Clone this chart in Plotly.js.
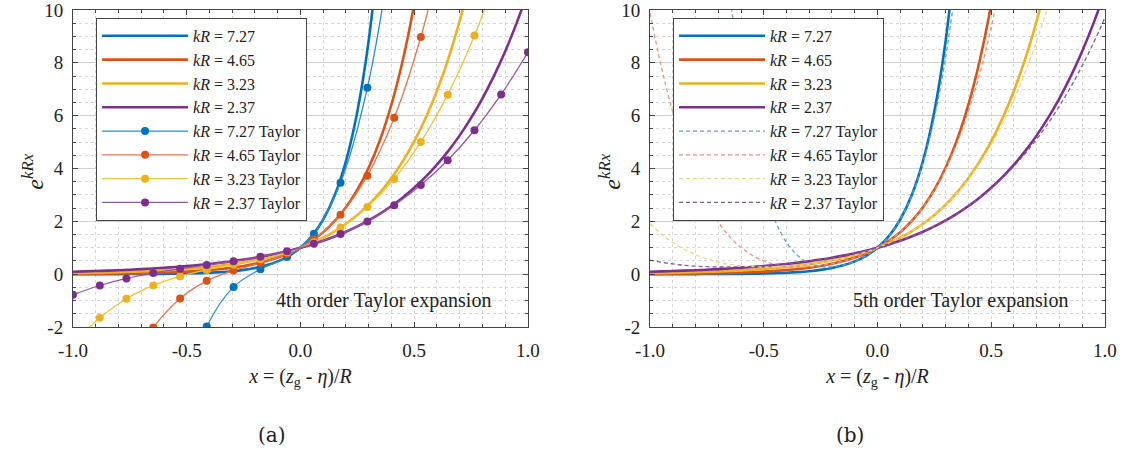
<!DOCTYPE html>
<html><head><meta charset="utf-8">
<script src="https://cdn.plot.ly/plotly-3.0.1.min.js"></script>
<style>html,body{margin:0;padding:0;background:#fff;} #chart{width:1126px;height:454px;}</style>
</head><body><div id="chart"></div>
<script>
// ---- data ----
const kLabels = ['7.27', '4.65', '3.23', '2.37'];

const xFine = [-1, -0.95, -0.9, -0.85, -0.8, -0.75, -0.7, -0.65, -0.6, -0.55, -0.5, -0.45, -0.4, -0.35, -0.3, -0.25, -0.2, -0.15, -0.1, -0.05,
  0, 0.05, 0.1, 0.15, 0.2, 0.25, 0.3, 0.35, 0.4, 0.45, 0.5, 0.55, 0.6, 0.65, 0.7, 0.75, 0.8, 0.85, 0.9, 0.95, 1];

// exact curves e^{kRx}
const expK727 = [0.0007, 0.001, 0.0014, 0.0021, 0.003, 0.0043, 0.0062, 0.0089, 0.0128, 0.0183, 0.0264, 0.038, 0.0546, 0.0785, 0.1129, 0.1624, 0.2336, 0.3361, 0.4834, 0.6953,
  1, 1.4383, 2.0689, 2.9756, 4.28, 6.156, 8.855, 12.736, null, null, null, null, null, null, null, null, null, null, null, null, null];
const expK465 = [0.0096, 0.0121, 0.0152, 0.0192, 0.0242, 0.0306, 0.0386, 0.0487, 0.0614, 0.0775, 0.0978, 0.1234, 0.1557, 0.1964, 0.2478, 0.3127, 0.3946, 0.4978, 0.6281, 0.7926,
  1, 1.2617, 1.592, 2.0087, 2.5345, 3.198, 4.035, 5.0911, 6.4237, 8.1053, 10.227, 12.904, null, null, null, null, null, null, null, null, null];
const expK323 = [0.0396, 0.0465, 0.0547, 0.0642, 0.0755, 0.0887, 0.1043, 0.1225, 0.144, 0.1692, 0.1989, 0.2337, 0.2747, 0.3229, 0.3795, 0.446, 0.5241, 0.616, 0.724, 0.8509,
  1, 1.1753, 1.3813, 1.6234, 1.9079, 2.2423, 2.6353, 3.0972, 3.6401, 4.2781, 5.0279, 5.9092, 6.9449, 8.1621, 9.5927, 11.274, null, null, null, null, null];
const expK237 = [0.0935, 0.1052, 0.1185, 0.1334, 0.1502, 0.1691, 0.1903, 0.2143, 0.2412, 0.2716, 0.3058, 0.3442, 0.3875, 0.4363, 0.4912, 0.5529, 0.6225, 0.7008, 0.789, 0.8882,
  1, 1.1258, 1.2674, 1.4269, 1.6064, 1.8085, 2.036, 2.2922, 2.5805, 2.9052, 3.2707, 3.6822, 4.1454, 4.667, 5.2541, 5.9151, 6.6591, 7.4968, 8.4401, 9.5021, 10.6974];

// panel (a): "4th order" Taylor, values at the marker positions
const xTaylor = [-1, -0.882, -0.765, -0.647, -0.529, -0.412, -0.294, -0.176, -0.059, 0.059, 0.176, 0.294, 0.412, 0.529, 0.647, 0.765, 0.882, 1];
const t4K727 = [null, null, null, null, -4.944, -1.984, -0.482, 0.188, 0.651, 1.532, 3.458, 7.053, 12.945, null, null, null, null, null];
const t4K465 = [null, null, -3.727, -2.022, -0.918, -0.252, 0.141, 0.424, 0.760, 1.314, 2.249, 3.729, 5.918, 8.979, 13.075, null, null, null];
const t4K323 = [-2.630, -1.647, -0.931, -0.428, -0.081, 0.162, 0.358, 0.562, 0.827, 1.209, 1.763, 2.544, 3.607, 5.005, 6.796, 9.032, 11.769, null];
const t4K237 = [-0.780, -0.429, -0.162, 0.041, 0.203, 0.345, 0.489, 0.657, 0.870, 1.150, 1.518, 1.996, 2.607, 3.371, 4.310, 5.447, 6.802, 8.397];

// panel (b): "5th order" Taylor on xFine
const t5K727 = [null, null, null, null, null, null, null, 10.63, 7.403, 4.992, 3.241, 2.017, 1.201, 0.694, 0.411, 0.288, 0.277, 0.347, 0.485, 0.695,
  1, 1.438, 2.067, 2.960, 4.210, 5.925, 8.231, 11.274, null, null, null, null, null, null, null, null, null, null, null, null, null];
const t5K465 = [9.884, 7.839, 6.137, 4.736, 3.599, 2.688, 1.972, 1.421, 1.007, 0.708, 0.501, 0.369, 0.296, 0.271, 0.283, 0.328, 0.400, 0.499, 0.628, 0.793,
  1, 1.262, 1.592, 2.007, 2.528, 3.176, 3.978, 4.963, 6.161, 7.608, 9.340, 11.399, null, null, null, null, null, null, null, null, null];
const t5K323 = [1.905, 1.518, 1.200, 0.942, 0.737, 0.577, 0.458, 0.372, 0.315, 0.282, 0.271, 0.277, 0.299, 0.336, 0.386, 0.448, 0.524, 0.616, 0.724, 0.851,
  1, 1.175, 1.381, 1.623, 1.907, 2.239, 2.627, 3.078, 3.602, 4.208, 4.905, 5.704, 6.617, 7.655, 8.832, 10.161, 11.656, null, null, null, null];
const t5K237 = [0.534, 0.452, 0.387, 0.338, 0.304, 0.282, 0.272, 0.271, 0.280, 0.297, 0.322, 0.354, 0.393, 0.439, 0.494, 0.554, 0.623, 0.701, 0.789, 0.888,
  1, 1.126, 1.267, 1.427, 1.606, 1.808, 2.034, 2.288, 2.573, 2.891, 3.247, 3.642, 4.083, 4.571, 5.112, 5.709, 6.368, 7.092, 7.888, 8.759, 9.712];

const xTickVals = [-1, -0.5, 0, 0.5, 1];
const xTickText = ['-1.0', '-0.5', '0.0', '0.5', '1.0'];
const yTickVals = [-2, 0, 2, 4, 6, 8, 10];
const yTickText = ['-2', '0', '2', '4', '6', '8', '10'];

// ---- styling ----
const colors = ['#0072BD', '#D95319', '#EDB120', '#7E2F8E'];
const thinColors = ['#2f8ad4', '#e2764f', '#f0c13c', '#9457a6'];
const dashColors = ['#5b9fd6', '#e8937b', '#f4d27c', '#85569a'];
const serif = 'Liberation Serif';

const expSeries = [expK727, expK465, expK323, expK237];
const t4Series = [t4K727, t4K465, t4K323, t4K237];
const t5Series = [t5K727, t5K465, t5K323, t5K237];

const traces = [];
// panel (a)
expSeries.forEach((ys, i) => traces.push({
  x: xFine, y: ys, xaxis: 'x', yaxis: 'y', mode: 'lines', legend: 'legend',
  name: '<i>kR</i> = ' + kLabels[i],
  line: {color: colors[i], width: 2.6, shape: 'spline'}
}));
t4Series.forEach((ys, i) => traces.push({
  x: xTaylor, y: ys, xaxis: 'x', yaxis: 'y', mode: 'lines+markers', legend: 'legend',
  name: '<i>kR</i> = ' + kLabels[i] + ' Taylor',
  line: {color: thinColors[i], width: 1.3, shape: 'spline'},
  marker: {color: colors[i], size: 8}
}));
// panel (b)
expSeries.forEach((ys, i) => traces.push({
  x: xFine, y: ys, xaxis: 'x2', yaxis: 'y2', mode: 'lines', legend: 'legend2',
  name: '<i>kR</i> = ' + kLabels[i],
  line: {color: colors[i], width: 2.6, shape: 'spline'}
}));
t5Series.forEach((ys, i) => traces.push({
  x: xFine, y: ys, xaxis: 'x2', yaxis: 'y2', mode: 'lines', legend: 'legend2',
  name: '<i>kR</i> = ' + kLabels[i] + ' Taylor',
  line: {color: dashColors[i], width: 1.3, dash: '4px,3px', shape: 'spline'}
}));

function xAxis(domain, anchor) {
  return {
    domain: domain, anchor: anchor, range: [-1, 1], autorange: false,
    tickmode: 'array', tickvals: xTickVals, ticktext: xTickText,
    ticks: 'inside', ticklen: 5, tickwidth: 1, tickcolor: '#444',
    showline: true, linecolor: '#444', linewidth: 1, mirror: 'ticks',
    showgrid: true, gridcolor: '#d6d6d6', gridwidth: 1, griddash: 'dot', zeroline: false,
    minor: {dtick: 0.1, tick0: 0, showgrid: true, gridcolor: '#d6d6d6', griddash: 'dot', ticks: 'inside', ticklen: 3, tickcolor: '#444'},
    tickfont: {family: serif, size: 19, color: '#222'},
    ticklabelstandoff: 6, ticklabeloverflow: 'allow',
    title: {text: '<i>x</i> = (<i>z</i><sub>g</sub> - <i>η</i>)/<i>R</i>', font: {family: serif, size: 20, color: '#222'}, standoff: 9}
  };
}
function yAxis(anchor) {
  return {
    domain: [0, 1], anchor: anchor, range: [-2, 10], autorange: false,
    tickmode: 'array', tickvals: yTickVals, ticktext: yTickText,
    ticks: 'inside', ticklen: 5, tickwidth: 1, tickcolor: '#444',
    showline: true, linecolor: '#444', linewidth: 1, mirror: 'ticks',
    showgrid: true, gridcolor: '#d0d0d0', gridwidth: 1, zeroline: false,
    minor: {dtick: 0.5, tick0: 0, showgrid: true, gridcolor: '#d6d6d6', griddash: 'dot', ticks: 'inside', ticklen: 3, tickcolor: '#444'},
    tickfont: {family: serif, size: 19, color: '#222'},
    ticklabelstandoff: 5, ticklabeloverflow: 'allow'
  };
}
const legendStyle = (x) => ({
  x: x, y: 0.975, xanchor: 'left', yanchor: 'top',
  bgcolor: '#ffffff', bordercolor: '#444', borderwidth: 1,
  font: {family: serif, size: 16, color: '#222'}, itemwidth: 86, tracegroupgap: 0
});

const yTitle = '<i>e</i><sup><i>kRx</i></sup>';
const layout = {
  width: 1126, height: 454,
  margin: {l: 0, r: 0, t: 10, b: 127, pad: 0},
  paper_bgcolor: '#fff', plot_bgcolor: '#fff',
  showlegend: true,
  xaxis: xAxis([0.0648, 0.4689], 'y'),
  yaxis: yAxis('x'),
  xaxis2: xAxis([0.5773, 0.9813], 'y2'),
  yaxis2: yAxis('x2'),
  legend: legendStyle(0.0853),
  legend2: legendStyle(0.5977),
  annotations: [
    {xref: 'paper', yref: 'paper', x: 33 / 1126, y: 0.49, xanchor: 'center', yanchor: 'middle', showarrow: false,
     textangle: -90, text: yTitle, font: {family: serif, size: 24, color: '#222'}},
    {xref: 'paper', yref: 'paper', x: 610 / 1126, y: 0.49, xanchor: 'center', yanchor: 'middle', showarrow: false,
     textangle: -90, text: yTitle, font: {family: serif, size: 24, color: '#222'}},
    {xref: 'x', yref: 'y', x: 0.846, y: -1.0, xanchor: 'right', yanchor: 'middle', showarrow: false,
     text: '4th order Taylor expansion', font: {family: serif, size: 20, color: '#222'}},
    {xref: 'x2', yref: 'y2', x: 0.846, y: -1.0, xanchor: 'right', yanchor: 'middle', showarrow: false,
     text: '5th order Taylor expansion', font: {family: serif, size: 20, color: '#222'}},
    {xref: 'paper', yref: 'paper', x: 272 / 1126, y: -0.341, xanchor: 'center', yanchor: 'middle', showarrow: false,
     text: '(a)', font: {family: 'DejaVu Serif', size: 20, color: '#222'}},
    {xref: 'paper', yref: 'paper', x: 850 / 1126, y: -0.341, xanchor: 'center', yanchor: 'middle', showarrow: false,
     text: '(b)', font: {family: 'DejaVu Serif', size: 20, color: '#222'}}
  ]
};

Plotly.newPlot('chart', traces, layout, {displayModeBar: false, staticPlot: true});
</script>
</body></html>
